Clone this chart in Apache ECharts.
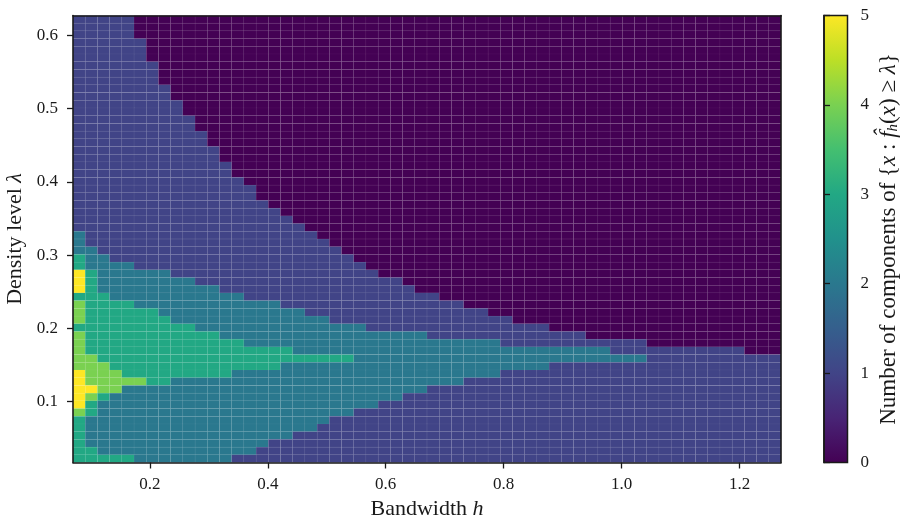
<!DOCTYPE html>
<html>
<head>
<meta charset="utf-8">
<script src="https://cdn.jsdelivr.net/npm/echarts@6/dist/echarts.min.js"></script>
<style>
  html, body { margin: 0; padding: 0; background: #fff; }
  #chart { width: 901px; height: 517px; }
</style>
</head>
<body>
<div id="chart"></div>
<script>
// bandwidth h, cell centres (columns)
const bandwidths = [
  0.0800, 0.1007, 0.1214, 0.1421, 0.1628, 0.1835, 0.2042, 0.2249, 0.2456, 0.2663,
  0.2870, 0.3077, 0.3284, 0.3491, 0.3698, 0.3905, 0.4112, 0.4319, 0.4526, 0.4733,
  0.4940, 0.5147, 0.5354, 0.5561, 0.5768, 0.5975, 0.6182, 0.6389, 0.6596, 0.6804,
  0.7011, 0.7218, 0.7425, 0.7632, 0.7839, 0.8046, 0.8253, 0.8460, 0.8667, 0.8874,
  0.9081, 0.9288, 0.9495, 0.9702, 0.9909, 1.0116, 1.0323, 1.0530, 1.0737, 1.0944,
  1.1151, 1.1358, 1.1565, 1.1772, 1.1979, 1.2186, 1.2393, 1.2600
];

// density level λ, cell centres from bottom to top
const levels = [
  0.0220, 0.0325, 0.0431, 0.0536, 0.0641, 0.0746, 0.0852, 0.0957, 0.1062, 0.1167,
  0.1273, 0.1378, 0.1483, 0.1588, 0.1694, 0.1799, 0.1904, 0.2009, 0.2115, 0.2220,
  0.2325, 0.2431, 0.2536, 0.2641, 0.2746, 0.2852, 0.2957, 0.3062, 0.3167, 0.3273,
  0.3378, 0.3483, 0.3588, 0.3694, 0.3799, 0.3904, 0.4009, 0.4115, 0.4220, 0.4325,
  0.4431, 0.4536, 0.4641, 0.4746, 0.4852, 0.4957, 0.5062, 0.5167, 0.5273, 0.5378,
  0.5483, 0.5588, 0.5694, 0.5799, 0.5904, 0.6009, 0.6115, 0.6220
];

// number of components, one row per level from top (0.622) down to 0.022,
// written as runs of [count, how many columns]
const componentRuns = [
  [[1, 5], [0, 53]],
  [[1, 5], [0, 53]],
  [[1, 5], [0, 53]],
  [[1, 6], [0, 52]],
  [[1, 6], [0, 52]],
  [[1, 6], [0, 52]],
  [[1, 7], [0, 51]],
  [[1, 7], [0, 51]],
  [[1, 7], [0, 51]],
  [[1, 8], [0, 50]],
  [[1, 8], [0, 50]],
  [[1, 9], [0, 49]],
  [[1, 9], [0, 49]],
  [[1, 10], [0, 48]],
  [[1, 10], [0, 48]],
  [[1, 11], [0, 47]],
  [[1, 11], [0, 47]],
  [[1, 12], [0, 46]],
  [[1, 12], [0, 46]],
  [[1, 13], [0, 45]],
  [[1, 13], [0, 45]],
  [[1, 14], [0, 44]],
  [[1, 15], [0, 43]],
  [[1, 15], [0, 43]],
  [[1, 16], [0, 42]],
  [[1, 17], [0, 41]],
  [[1, 18], [0, 40]],
  [[1, 19], [0, 39]],
  [[2, 1], [1, 19], [0, 38]],
  [[2, 1], [1, 20], [0, 37]],
  [[2, 2], [1, 20], [0, 36]],
  [[3, 1], [2, 2], [1, 20], [0, 35]],
  [[3, 1], [2, 4], [1, 19], [0, 34]],
  [[5, 1], [3, 1], [2, 6], [1, 17], [0, 33]],
  [[5, 1], [3, 1], [2, 8], [1, 17], [0, 31]],
  [[5, 1], [3, 1], [2, 10], [1, 16], [0, 30]],
  [[3, 3], [2, 11], [1, 16], [0, 28]],
  [[4, 1], [3, 4], [2, 12], [1, 15], [0, 26]],
  [[4, 1], [3, 6], [2, 12], [1, 15], [0, 24]],
  [[4, 1], [3, 7], [2, 13], [1, 15], [0, 22]],
  [[3, 10], [2, 14], [1, 15], [0, 19]],
  [[4, 1], [3, 11], [2, 17], [1, 13], [0, 16]],
  [[4, 1], [3, 13], [2, 21], [1, 12], [0, 11]],
  [[4, 1], [3, 17], [2, 26], [1, 11], [0, 3]],
  [[4, 2], [3, 21], [2, 24], [1, 11]],
  [[4, 3], [3, 14], [2, 22], [1, 19]],
  [[5, 1], [4, 3], [3, 9], [2, 22], [1, 23]],
  [[5, 1], [4, 5], [3, 2], [2, 24], [1, 26]],
  [[5, 2], [4, 2], [2, 25], [1, 29]],
  [[5, 1], [4, 1], [3, 1], [2, 24], [1, 31]],
  [[5, 1], [3, 1], [2, 23], [1, 33]],
  [[4, 1], [3, 1], [2, 21], [1, 35]],
  [[3, 1], [2, 20], [1, 37]],
  [[3, 1], [2, 19], [1, 38]],
  [[3, 1], [2, 17], [1, 40]],
  [[3, 1], [2, 15], [1, 42]],
  [[3, 2], [2, 13], [1, 43]],
  [[3, 5], [2, 8], [1, 45]]
];

const xTicks = [0.2, 0.4, 0.6, 0.8, 1.0, 1.2];
const yTicks = [0.1, 0.2, 0.3, 0.4, 0.5, 0.6];

const viridis = [
  "#440154", "#482475", "#414487", "#355f8d", "#2a788e", "#21918c",
  "#22a884", "#44bf70", "#7ad151", "#bddf26", "#fde725"
];

const FONT = "'Liberation Serif', 'DejaVu Serif', serif";
const INK = "#1a1a1a";

// build cells
const cells = [];
const nRows = componentRuns.length;
componentRuns.forEach((runs, r) => {
  const lam = levels[nRows - 1 - r];
  let c = 0;
  runs.forEach(([v, n]) => {
    for (let k = 0; k < n; k++) {
      cells.push([bandwidths[c], lam, v]);
      c++;
    }
  });
});

const dh = bandwidths[1] - bandwidths[0];
const dl = levels[1] - levels[0];
const xMin = bandwidths[0] - dh / 2;
const xMax = bandwidths[bandwidths.length - 1] + dh / 2;
const yMin = levels[0] - dl / 2;
const yMax = levels[levels.length - 1] + dl / 2;

const chart = echarts.init(document.getElementById("chart"));

const lineAxis = { lineStyle: { color: INK, width: 1.6 } };
const tickStyle = { show: true, inside: false, length: 6, lineStyle: { color: INK, width: 1.3 } };
const nameStyle = (size) => ({
  fontFamily: FONT, fontSize: size, color: INK,
  rich: {
    it: { fontFamily: FONT, fontStyle: "italic", fontSize: size, color: INK },
    sub: { fontFamily: FONT, fontStyle: "italic", fontSize: 15, color: INK, padding: [8, 0, 0, 0] }
  }
});

const option = {
  animation: false,
  backgroundColor: "#fff",
  grid: [
    { left: 73, top: 15.5, width: 708, height: 447, outerBoundsMode: "none", containLabel: false },
    { left: 824, top: 15.5, width: 23.5, height: 447, outerBoundsMode: "none", containLabel: false }
  ],
  visualMap: {
    type: "continuous",
    show: false,
    min: 0,
    max: 5,
    dimension: 2,
    seriesIndex: 0,
    inRange: { color: viridis }
  },
  xAxis: [
    {
      type: "value", gridIndex: 0, min: xMin, max: xMax, z: 10,
      name: "Bandwidth {it|h}", nameLocation: "middle", nameGap: 33,
      nameTextStyle: nameStyle(22),
      axisLine: lineAxis,
      axisTick: Object.assign({ customValues: xTicks }, tickStyle),
      axisLabel: {
        customValues: xTicks, margin: 14, fontFamily: FONT, fontSize: 17, color: INK,
        formatter: v => v.toFixed(1)
      },
      splitLine: { show: false }
    },
    {
      type: "value", gridIndex: 0, position: "top", min: xMin, max: xMax, z: 10,
      axisLine: lineAxis, axisTick: { show: false }, axisLabel: { show: false }, splitLine: { show: false }
    },
    {
      type: "value", gridIndex: 1, min: 0, max: 1, show: false
    }
  ],
  yAxis: [
    {
      type: "value", gridIndex: 0, min: yMin, max: yMax, z: 10,
      name: "Density level {it|λ}", nameLocation: "middle", nameGap: 40, nameRotate: 90,
      nameTextStyle: nameStyle(22),
      axisLine: lineAxis,
      axisTick: Object.assign({ customValues: yTicks }, tickStyle),
      axisLabel: {
        customValues: yTicks, margin: 15, fontFamily: FONT, fontSize: 17, color: INK,
        formatter: v => v.toFixed(1)
      },
      splitLine: { show: false }
    },
    {
      type: "value", gridIndex: 0, position: "right", min: yMin, max: yMax, z: 10,
      axisLine: lineAxis, axisTick: { show: false }, axisLabel: { show: false }, splitLine: { show: false }
    },
    {
      type: "value", gridIndex: 1, position: "right", min: 0, max: 5, interval: 1, z: 10,
      name: "Number of components of {{it|x} : {it|f̂}{sub|h}({it|x}) ≥ {it|λ}}",
      nameLocation: "middle", nameGap: 30, nameRotate: 90,
      nameTextStyle: nameStyle(23),
      axisLine: lineAxis,
      axisTick: tickStyle,
      axisLabel: { margin: 13, fontFamily: FONT, fontSize: 17, color: INK },
      splitLine: { show: false }
    }
  ],
  series: [
    {
      type: "custom",
      xAxisIndex: 0,
      yAxisIndex: 0,
      data: cells,
      renderItem: (params, api) => {
        const h = api.value(0);
        const l = api.value(1);
        const p0 = api.coord([h - dh / 2, l + dl / 2]);
        const p1 = api.coord([h + dh / 2, l - dl / 2]);
        return {
          type: "rect",
          shape: { x: p0[0], y: p0[1], width: p1[0] - p0[0], height: p1[1] - p0[1] },
          style: { fill: api.visual("color"), stroke: "rgba(255,255,255,0.05)", lineWidth: 0.6 }
        };
      }
    },
    {
      type: "custom",
      xAxisIndex: 2,
      yAxisIndex: 2,
      data: [[0, 5, 1, 0]],
      renderItem: (params, api) => {
        const p0 = api.coord([api.value(0), api.value(1)]);
        const p1 = api.coord([api.value(2), api.value(3)]);
        return {
          type: "rect",
          shape: { x: p0[0], y: p0[1], width: p1[0] - p0[0], height: p1[1] - p0[1] },
          style: {
            fill: new echarts.graphic.LinearGradient(0, 1, 0, 0,
              viridis.map((col, i) => ({ offset: i / (viridis.length - 1), color: col }))),
            stroke: INK,
            lineWidth: 1.5
          }
        };
      }
    }
  ]
};

chart.setOption(option);
</script>
</body>
</html>
